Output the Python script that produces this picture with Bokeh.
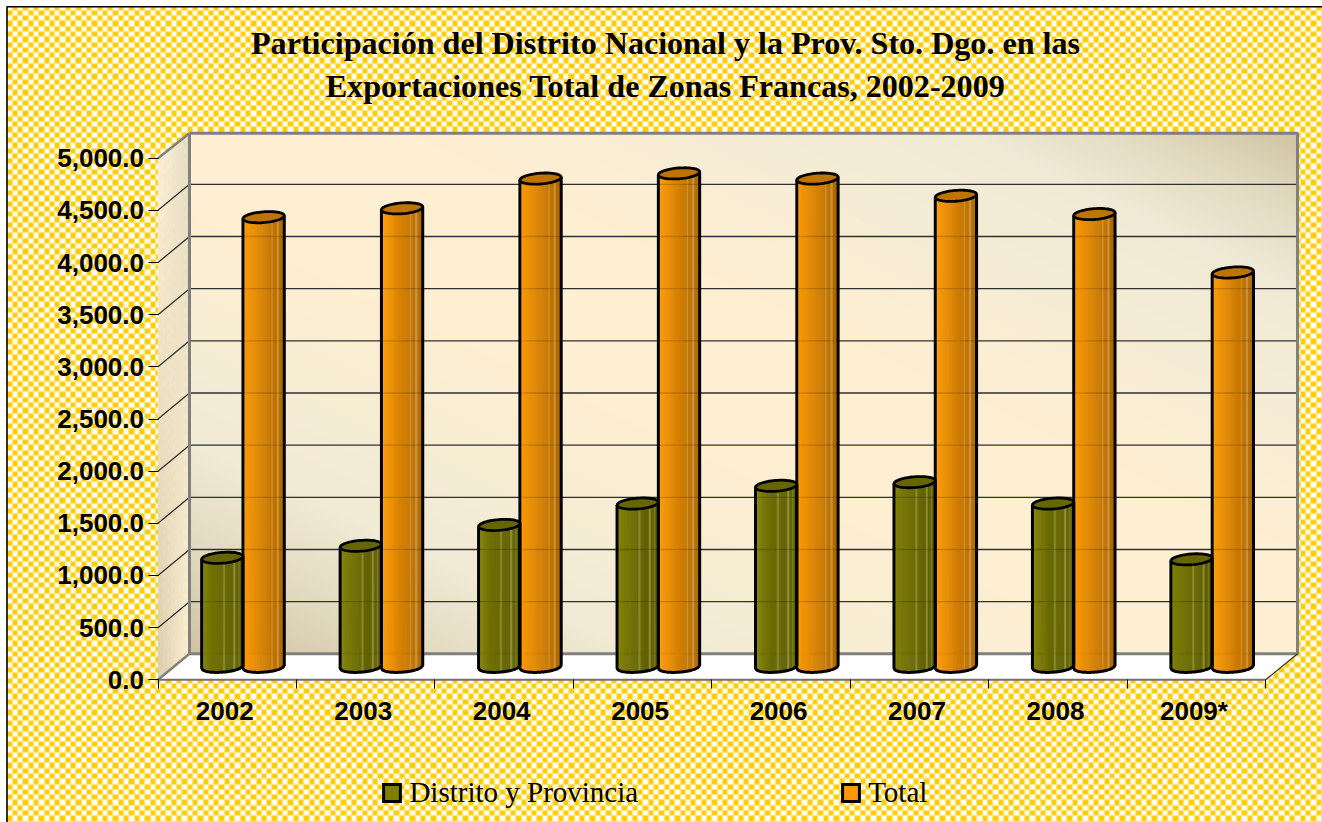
import numpy as np
from bokeh.plotting import figure
from bokeh.embed import file_html
from bokeh.resources import INLINE
from bokeh.core.properties import value
from bokeh.models import (ColumnDataSource, FixedTicker, LinearAxis, NumeralTickFormatter,
                          Legend, LegendItem, Range1d)

# ---- data ----
years = ["2002", "2003", "2004", "2005", "2006", "2007", "2008", "2009*"]
distrito = [1045, 1160, 1360, 1565, 1735, 1770, 1565, 1030]
total = [4310, 4395, 4680, 4730, 4680, 4515, 4340, 3780]
y_ticks = [0, 500, 1000, 1500, 2000, 2500, 3000, 3500, 4000, 4500, 5000]
title_lines = ["Participación del Distrito Nacional y la Prov. Sto. Dgo. en las",
               "Exportaciones Total de Zonas Francas, 2002-2009"]
series_names = ["Distrito y Provincia", "Total"]

# ---- layout constants: page pixels of the plot's corners ----
PX_X0, PX_PER_CAT = 157.5, 138.46
PX_Y0, PX_PER_UNIT = 679.3, 521.6 / 5000
DEPTH_X, DEPTH_Y = 31.5, 26.0
BAR_W = 41.3
ELL_B = 5.4
TILT = 1.5
W, H = 1322, 822
ORG = 0


def X(px):
    return (np.asarray(px, dtype=float) - PX_X0) / PX_PER_CAT


def Y(py):
    return (PX_Y0 - np.asarray(py, dtype=float)) / PX_PER_UNIT


DX = 1 / PX_PER_CAT
DY = 1 / PX_PER_UNIT
n_cat = len(years)

p = figure(width=W, height=H, output_backend="svg", toolbar_location=None,
           x_range=Range1d(float(X(ORG)), float(X(ORG + W))),
           y_range=Range1d(float(Y(ORG + H)), float(Y(ORG))),
           min_border=0, min_border_left=0, min_border_right=0, min_border_top=0, min_border_bottom=0,
           outline_line_color=None, background_fill_color="#ffffff", border_fill_color="#ffffff",
           x_axis_location="below", y_axis_location="left")
p.grid.visible = False


def rgb(h):
    h = h.lstrip("#")
    return np.array([int(h[i:i + 2], 16) for i in (0, 2, 4)], dtype=float)


def hexc(c):
    c = np.clip(np.round(c), 0, 255).astype(int)
    return "#%02x%02x%02x" % tuple(c)


def ramp(t, stops):
    ts = [s[0] for s in stops]
    cols = np.array([rgb(s[1]) for s in stops])
    return np.stack([np.interp(t, ts, cols[:, k]) for k in range(3)], axis=-1)


# ---- legend swatch renderers: one zero-height bar each, hidden beneath the background ----
r1 = p.vbar(x=[4], top=[2000], width=0.01, bottom=[2000], fill_color="#808000", line_color="#000000",
            line_width=3, line_join="miter")
r2 = p.vbar(x=[4], top=[2000], width=0.01, bottom=[2000], fill_color="#FF9900", line_color="#000000",
            line_width=3, line_join="miter")

# ---- hatched page background, starting at the chart's border ----
BG0 = 6
cell = 5.3
bw, bh = W - BG0, H - BG0
xx, yy = np.meshgrid(np.arange(bw), np.arange(bh))
chk = ((np.floor(xx / cell) + np.floor((yy + 2) / cell)) % 2).astype(float)
blur = (chk + np.roll(chk, 1, 0) + np.roll(chk, -1, 0) + np.roll(chk, 1, 1) + np.roll(chk, -1, 1) + 3 * chk) / 8
gold, white = rgb("#FFCC00"), rgb("#FFFFFF")
bg = np.zeros((bh, bw), dtype=np.uint32)
view = bg.view(dtype=np.uint8).reshape((bh, bw, 4))
for k in range(3):
    view[:, :, k] = (gold[k] * blur + white[k] * (1 - blur)).astype(np.uint8)
view[:, :, 3] = 255
p.image_rgba(image=[bg[::-1]], x=float(X(BG0)), y=float(Y(H)), dw=bw * DX, dh=bh * DY)

# ---- back wall gradient ----
wx0, wx1 = PX_X0 + DEPTH_X, 1297.0
wy1, wy0 = PX_Y0 - DEPTH_Y, 132.7
wn, hn = int(wx1 - wx0), int(wy1 - wy0)
u, v = np.meshgrid(np.linspace(0, 1, wn), np.linspace(0, 1, hn))  # v=0 at bottom
tt = (u + v) / 2
wall = ramp(tt, [(0, "#CFC3A2"), (0.1, "#E2DABF"), (0.2, "#F1EAD4"), (0.3, "#F6EDD4"), (0.42, "#FEEFD2"),
                 (0.6, "#FEEFD2"), (0.72, "#F7EDD5"), (0.85, "#F0EAD6"), (0.93, "#E2DABF"), (1, "#CFC3A2")])
wimg = np.zeros((hn, wn), dtype=np.uint32)
wv = wimg.view(dtype=np.uint8).reshape((hn, wn, 4))
wv[:, :, :3] = wall.astype(np.uint8)
wv[:, :, 3] = 255
p.image_rgba(image=[wimg], x=float(X(wx0)), y=float(Y(wy1)), dw=(wx1 - wx0) * DX, dh=(wy1 - wy0) * DY)

# ---- left wall (parallelogram cells) ----
cx, cy, cc = [], [], []
nc, nr = 12, 24
tl, tr, bl, br = rgb("#FEF0D6"), rgb("#E3DCC4"), rgb("#D8CDAE"), rgb("#FEEFD2")
for i in range(nc):
    for j in range(nr):
        a0, a1 = i / nc, (i + 1) / nc
        b0, b1 = j / nr, (j + 1) / nr
        px0, px1 = PX_X0 + a0 * DEPTH_X, PX_X0 + a1 * DEPTH_X
        top0, bot0 = 157.7 - a0 * DEPTH_Y, PX_Y0 - a0 * DEPTH_Y
        top1, bot1 = 157.7 - a1 * DEPTH_Y, PX_Y0 - a1 * DEPTH_Y
        cx.append(list(X([px0, px1, px1, px0])))
        cy.append(list(Y([top0 + b0 * (bot0 - top0), top1 + b0 * (bot1 - top1),
                          top1 + b1 * (bot1 - top1), top0 + b1 * (bot0 - top0)])))
        am, bm = (a0 + a1) / 2, (b0 + b1) / 2
        cc.append(hexc((1 - bm) * ((1 - am) * tl + am * tr) + bm * ((1 - am) * bl + am * br)))
p.patches(xs="x", ys="y", fill_color="c", line_color="c", line_width=0.5,
          source=ColumnDataSource(dict(x=cx, y=cy, c=cc)))

# ---- floor ----
n_x = float(n_cat)
fx = [0, n_x, float(X(1297)), float(X(wx0))]
fy = [0, 0, float(Y(wy1)), float(Y(wy1))]
p.patch(fx, fy, fill_color="#ffffff", line_color=None)

# ---- grid lines on the walls ----
gx, gy = [], []
for t in y_ticks[1:-1]:
    gx.append([0, DEPTH_X * DX, float(X(wx1))])
    gy.append([t, t + DEPTH_Y * DY, t + DEPTH_Y * DY])
p.multi_line(gx, gy, line_color="#303030", line_width=1.3)

# ---- frame of the walls ----
GREY = "#808080"
p.multi_line([[float(X(wx0)), float(X(wx1)), float(X(wx1)), float(X(wx0)), float(X(wx0))]],
             [[float(Y(wy0)), float(Y(wy0)), float(Y(wy1)), float(Y(wy1)), float(Y(wy0))]],
             line_color=GREY, line_width=3)
p.multi_line([[0, float(X(wx0))], [0, float(X(wx0))]],
             [[5000, float(Y(wy0))], [0, float(Y(wy1))]], line_color=GREY, line_width=2.5)
p.multi_line([[n_x, float(X(wx1))]], [[0, float(Y(wy1))]], line_color="#303030", line_width=1.2)
p.multi_line([[0, n_x]], [[0, 0]], line_color="#707070", line_width=2)


# ---- cylinders ----
def body_color(t, kind):
    # t in 0..1 across the cylinder
    if kind == 0:
        c = ramp(t, [(0, "#858500"), (0.2, "#747400"), (0.5, "#666600"), (1, "#5C5C00")])
        glow = [(0.03, 0.12), (0.55, 0.14), (0.8, 0.18), (0.92, 0.14)]
        light = rgb("#D8D88A")
    else:
        c = ramp(t, [(0, "#FF9A00"), (0.15, "#F39300"), (0.5, "#D48000"), (0.8, "#BC7000"), (1, "#A96500")])
        glow = [(0.03, 0.28), (0.72, 0.14), (0.85, 0.16)]
        light = rgb("#FFE0A8")
    for pos, amt in glow:
        if abs(t - pos) < 0.016:
            c = c + (light - c) * amt * 2
    return c


NS = 40
stripe_x, stripe_y, stripe_c = [], [], []
top_x, top_y, top_c = [], [], []
outl_x, outl_y = [], []
gseg_x, gseg_y = [], []
a = BAR_W / 2

for kind, vals in enumerate((distrito, total)):
    for i, val in enumerate(vals):
        cxp = PX_X0 + (i + 0.5) * PX_PER_CAT + DEPTH_X / 2 + (a if kind else -a)
        base_py = PX_Y0 - DEPTH_Y / 2
        top_py = float(base_py - val * PX_PER_UNIT)
        for s in range(NS):
            t0, t1 = -1 + 2 * s / NS, -1 + 2 * (s + 1) / NS
            fr = lambda t, yc: yc + ELL_B * np.sqrt(max(0.0, 1 - t * t)) - TILT * t
            xs = [cxp + a * t0, cxp + a * t1, cxp + a * t1, cxp + a * t0]
            ys = [fr(t0, base_py), fr(t1, base_py), fr(t1, top_py), fr(t0, top_py)]
            stripe_x.append(list(X(xs)))
            stripe_y.append(list(Y(ys)))
            stripe_c.append(hexc(body_color((s + 0.5) / NS, kind)))
        th = np.linspace(0, 2 * np.pi, 60)
        ex = cxp + a * np.cos(th)
        ey = top_py + ELL_B * np.sin(th) - TILT * np.cos(th)
        top_x.append(list(X(ex)))
        top_y.append(list(Y(ey)))
        top_c.append("#666600" if kind == 0 else "#C07400")
        arc = np.linspace(-1, 1, 41)
        bx = cxp + a * arc
        by = base_py + ELL_B * np.sqrt(1 - arc * arc) - TILT * arc
        ox = np.concatenate([[cxp - a], bx, [cxp + a]])
        oy = np.concatenate([[top_py + TILT], by, [top_py - TILT]])
        outl_x.append(list(X(ox)))
        outl_y.append(list(Y(oy)))
        # faint grid lines showing through the slightly translucent columns
        for g in y_ticks[1:-1]:
            gpy = PX_Y0 - g * PX_PER_UNIT - DEPTH_Y
            if top_py + 6 < gpy < base_py:
                gseg_x.append(list(X([cxp - a, cxp + a])))
                gseg_y.append(list(Y([gpy, gpy])))

p.patches(xs="x", ys="y", fill_color="c", line_color="c", line_width=0.6,
          source=ColumnDataSource(dict(x=stripe_x, y=stripe_y, c=stripe_c)))
p.multi_line(gseg_x, gseg_y, line_color="#000000", line_alpha=0.13, line_width=1.3)
p.multi_line(outl_x, outl_y, line_color="#000000", line_width=3, line_join="round")
p.patches(xs="x", ys="y", fill_color="c", line_color="#000000", line_width=2.8,
          source=ColumnDataSource(dict(x=top_x, y=top_y, c=top_c)))

# ---- native axes, fixed inside the full-bleed frame ----
TICK_FONT = "Liberation Sans"
yax = p.yaxis[0]
yax.fixed_location = 0
yax.ticker = FixedTicker(ticks=y_ticks)
yax.formatter = NumeralTickFormatter(format="0,0.0")
yax.major_tick_in = 0
yax.major_tick_out = 10
yax.minor_tick_line_color = None
yax.major_tick_line_color = "#000000"
yax.axis_line_color = None
yax.major_label_text_font = TICK_FONT
yax.major_label_text_font_style = "bold"
yax.major_label_text_font_size = "26px"
yax.major_label_text_color = "#000000"
yax.major_label_standoff = 4

xax = p.xaxis[0]
xax.fixed_location = 0
xax.ticker = FixedTicker(ticks=list(range(n_cat + 1)))
xax.major_label_overrides = {i: "" for i in range(n_cat + 1)}
xax.major_tick_in = 0
xax.major_tick_out = 9
xax.minor_tick_line_color = None
xax.major_tick_line_color = "#000000"
xax.axis_line_color = None

LABEL_SHIFT = 2.5 * DX
label_pos = [i + 0.5 - LABEL_SHIFT for i in range(n_cat)]
xl = LinearAxis(fixed_location=0,
                ticker=FixedTicker(ticks=label_pos),
                major_label_overrides={pos: y for pos, y in zip(label_pos, years)},
                major_tick_line_color=None, minor_tick_line_color=None, axis_line_color=None,
                major_tick_in=0, major_tick_out=0,
                major_label_standoff=16,
                major_label_text_font=TICK_FONT, major_label_text_font_style="bold",
                major_label_text_font_size="26px", major_label_text_color="#000000")
p.add_layout(xl, "below")

# ---- page border (left and top) ----
p.multi_line([[float(X(6.5)), float(X(6.5)), float(X(W))]],
             [[float(Y(H)), float(Y(6.3)), float(Y(6.3))]], line_color="#000000", line_width=1.6)

# ---- title ----
p.text(x=[float(X(665))] * 2, y=[float(Y(42.5)), float(Y(85.5))], text=title_lines,
       text_font=value("Liberation Serif"), text_font_style="bold", text_font_size="32.1px",
       text_color="#000000", text_align="center", text_baseline="middle")

# ---- legend ----
leg = Legend(items=[LegendItem(label=series_names[0], renderers=[r1]),
                    LegendItem(label=series_names[1], renderers=[r2])],
             orientation="horizontal", location=(381.4, 13), margin=0, padding=0, spacing=202,
             glyph_width=21, glyph_height=21, label_standoff=7,
             label_text_font="Liberation Serif", label_text_font_size="29px",
             label_text_color="#000000", background_fill_alpha=0, border_line_color=None)
p.add_layout(leg, "center")

open("out.html", "w").write(file_html(p, INLINE))
